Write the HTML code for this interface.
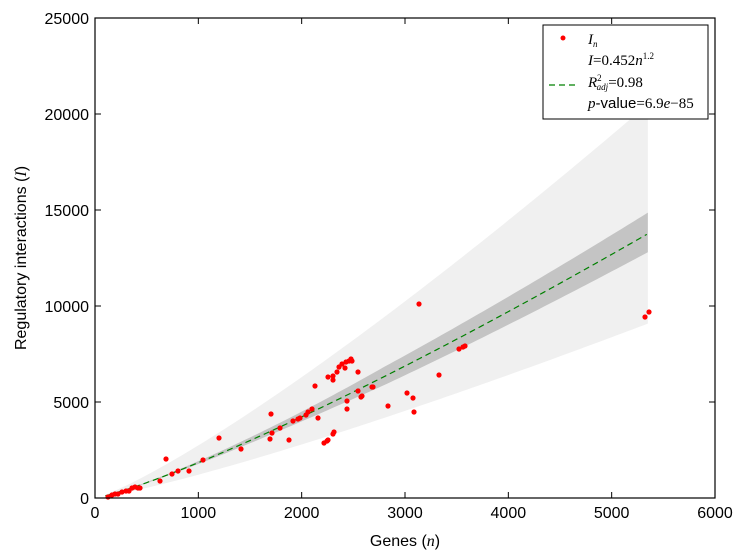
<!DOCTYPE html>
<html><head><meta charset="utf-8"><style>
body{margin:0;background:#fff;}
svg{display:block;font-family:"Liberation Sans",sans-serif;}
</style></head><body>
<svg id="s" width="745" height="559" xmlns="http://www.w3.org/2000/svg">
<rect width="745" height="559" fill="#fff"/>
<g id="bands"></g>
<g id="pts" fill="#f00"></g>
<rect x="95" y="18" width="620" height="480" fill="none" stroke="#000" stroke-width="1.2"/>
<g id="ticks" stroke="#000" stroke-width="1"></g>
<g font-size="16" fill="#000" id="lbl"></g>
<text x="405" y="546" font-size="16" text-anchor="middle">Genes (<tspan font-family="Liberation Serif" font-style="italic">n</tspan>)</text>
<text transform="translate(26,258) rotate(-90)" font-size="16" text-anchor="middle">Regulatory interactions (<tspan font-family="Liberation Serif" font-style="italic">I</tspan>)</text>
<g>
<rect x="543" y="25" width="165" height="94" fill="#fff" stroke="#000" stroke-width="1"/>
<circle cx="563" cy="38" r="2.5" fill="#f00"/>
<line x1="549" y1="85" x2="578" y2="85" stroke="#008000" stroke-width="1.3" stroke-dasharray="6,4"/>
<g font-family="Liberation Serif" font-size="15" font-style="italic">
<text x="588" y="44">I<tspan font-size="9" dy="3">n</tspan></text>
<text x="588" y="65">I<tspan font-style="normal">=0.452</tspan>n<tspan font-style="normal" font-size="9" dy="-6">1.2</tspan></text>
<text x="588" y="87">R<tspan font-size="9" dy="-6" font-style="normal">2</tspan><tspan font-size="9" dx="-5" dy="9">adj</tspan><tspan font-style="normal" dy="-3">=0.98</tspan></text>
<text x="588" y="108">p<tspan font-family="Liberation Sans" font-style="normal">-value</tspan><tspan font-style="normal">=6.9</tspan>e<tspan font-style="normal">−85</tspan></text>
</g>
</g>
</svg>
<script>
var NS="http://www.w3.org/2000/svg";
function X(n){return 95+n*620/6000;}
function Y(v){return 498-v*480/25000;}
function f(n){return 0.462*Math.pow(n,1.2);}
function el(t,a,p){var e=document.createElementNS(NS,t);for(var k in a)e.setAttribute(k,a[k]);p.appendChild(e);return e;}
var b=document.getElementById("bands");
function band(lo,hi,fill){var up=[],dn=[];for(var n=100;n<=5371;n+=50){up.push(X(n)+","+Y(f(n)*hi(n)));dn.unshift(X(n)+","+Y(f(n)*lo(n)));}
el("polygon",{points:up.concat(dn).join(" "),fill:fill},b);}
band(function(){return 0.66},function(){return 1.49},"#f0f0f0");
band(function(n){return 1-0.07*Math.min(1,0.3+n/4000)},function(n){return 1+0.08*Math.min(1,0.3+n/4000)},"#c4c4c4");
var pl=[];for(var n=100;n<=5371;n+=40)pl.push(X(n)+","+Y(f(n)));
el("polyline",{points:pl.join(" "),fill:"none",stroke:"#008000","stroke-width":1.2,"stroke-dasharray":"6,4"},b);
var P=[[108,497],[112,495],[115,494],[118,494],[122,492],[126,491],[129,491],[132,488],[135,487],[138,488],[140,488],[160,481],[166,459],[172,474],[178,471],[189,471],[203,460],[219,438],[241,449],[270,439],[271,414],[272,433],[280,428],[289,440],[293,421],[298,419],[300,418],[306,415],[308,412],[312,409],[315,386],[318,418],[324,443],[327,441],[328,440],[333,434],[334,432],[328,377],[333,376],[333,380],[337,372],[339,367],[342,364],[345,368],[346,362],[349,361],[351,359],[352,361],[347,401],[347,409],[358,372],[358,391],[361,397],[362,396],[372,387],[373,387],[388,406],[407,393],[413,398],[414,412],[419,304],[439,375],[459,349],[463,347],[465,346],[645,317],[649,312]];
var g=document.getElementById("pts");P.forEach(function(p){el("circle",{cx:p[0],cy:p[1],r:2.6},g);});
var t=document.getElementById("ticks"),L=document.getElementById("lbl");
for(var i=0;i<=6;i++){var x=X(i*1000);el("line",{x1:x,y1:498,x2:x,y2:492},t);el("line",{x1:x,y1:18,x2:x,y2:24},t);
var tx=el("text",{x:x,y:518,"text-anchor":"middle"},L);tx.textContent=i*1000;}
for(var j=0;j<=5;j++){var y=Y(j*5000);el("line",{x1:95,y1:y,x2:101,y2:y},t);el("line",{x1:715,y1:y,x2:709,y2:y},t);
var ty=el("text",{x:89,y:y+6,"text-anchor":"end"},L);ty.textContent=j*5000;}
</script>
</body></html>
